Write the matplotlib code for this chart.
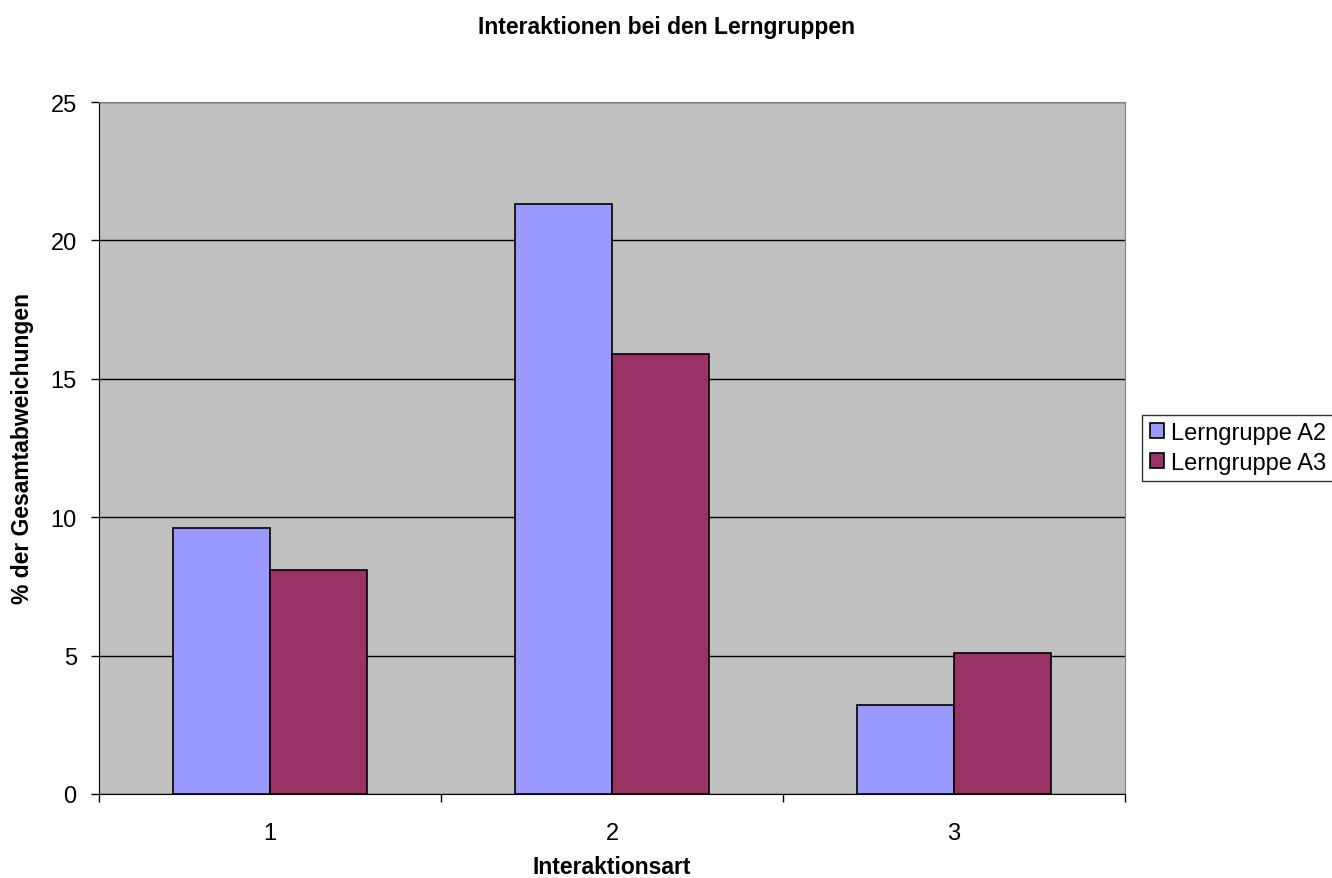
import numpy as np
import matplotlib
matplotlib.use("Agg")
import matplotlib.pyplot as plt

plt.rcParams['font.family'] = ['Liberation Sans', 'DejaVu Sans']

categories = ["1", "2", "3"]
series_names = ["Lerngruppe A2", "Lerngruppe A3"]
values_a2 = [9.6, 21.3, 3.2]
values_a3 = [8.1, 15.9, 5.1]
colors = ["#9999FF", "#993366"]

fig = plt.figure(figsize=(13.32, 8.79), dpi=100)
ax = fig.add_axes([0.0743, 0.0956, 0.7703, 0.7872])
ax.set_facecolor("#C0C0C0")

x = np.arange(1, len(categories) + 1)
w = 0.285
ax.bar(x - w / 2, values_a2, w, color=colors[0], edgecolor="black", linewidth=1.2,
       label=series_names[0], zorder=3)
ax.bar(x + w / 2, values_a3, w, color=colors[1], edgecolor="black", linewidth=1.2,
       label=series_names[1], zorder=3)

ax.set_xlim(0.5, 3.5)
ax.set_ylim(0, 25)
ax.set_yticks(np.arange(0, 26, 5))
ax.set_xticks(x)
ax.set_xticklabels(categories)
ax.set_xticks([0.5, 1.5, 2.5, 3.5], minor=True)
ax.tick_params(axis="x", which="major", length=0, pad=20, labelsize=17)
ax.tick_params(axis="x", which="minor", length=6, width=1)
ax.tick_params(axis="y", length=6, width=1, labelsize=17, pad=10)
ax.yaxis.grid(True, color="black", linewidth=1, zorder=1)
ax.set_axisbelow(True)

ax.spines["left"].set_color("black")
ax.spines["bottom"].set_color("black")
ax.spines["top"].set_color("#808080")
ax.spines["right"].set_color("#808080")

ax.set_xlabel("Interaktionsart", fontsize=16.5, fontweight="bold", va="center")
ax.xaxis.set_label_coords(0.5, -0.1055)
ax.set_ylabel("% der Gesamtabweichungen", fontsize=16.5, fontweight="bold", va="center")
ax.yaxis.set_label_coords(-0.075, 0.5)
fig.suptitle("Interaktionen bei den Lerngruppen", fontsize=16.5, fontweight="bold",
             y=0.969, va="center")

leg = ax.legend(loc="center left", bbox_to_anchor=(1.017, 0.5), fontsize=17,
                frameon=True, fancybox=False, edgecolor="black", handlelength=0.6,
                handleheight=0.6, handletextpad=0.3, borderpad=0.3, labelspacing=0.35,
                borderaxespad=0)
leg.get_frame().set_linewidth(1)

fig.savefig("out.png", dpi=100)
